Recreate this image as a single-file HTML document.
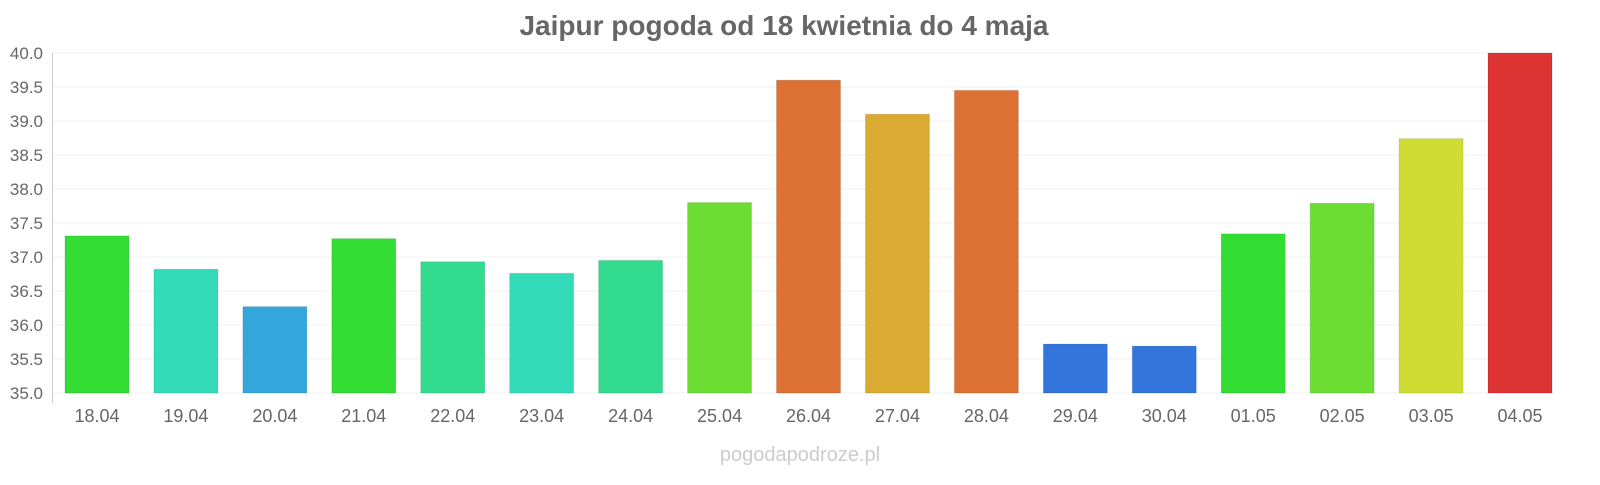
<!DOCTYPE html>
<html><head><meta charset="utf-8"><style>
body{margin:0;background:#fff;font-family:"Liberation Sans",sans-serif}
svg text{font-family:"Liberation Sans",sans-serif}
</style></head><body>
<svg id="chart" width="1600" height="480">
<text x="784" y="35" text-anchor="middle" font-size="28" font-weight="bold" fill="#666">Jaipur pogoda od 18 kwietnia do 4 maja</text>
<text x="800" y="461" text-anchor="middle" font-size="20" fill="#ccc">pogodapodroze.pl</text>
<g id="grid"></g><g id="bars"></g><g id="labels"></g>
</svg>
<script>
const categories=["18.04","19.04","20.04","21.04","22.04","23.04","24.04","25.04","26.04","27.04","28.04","29.04","30.04","01.05","02.05","03.05","04.05"];
const temps=[37.31,36.82,36.27,37.27,36.93,36.76,36.95,37.8,39.6,39.1,39.45,35.72,35.69,37.34,37.79,38.74,40.0];
const colors=["#33dd33","#33dbb8","#33a6db","#33dd33","#33db8f","#33dbb8","#33db8f","#6bdd33","#dd7033","#dbaa33","#dd7033","#3375db","#3375db","#33dd33","#6bdd33","#cfdd33","#dd3333"];
const ticks=["35.0","35.5","36.0","36.5","37.0","37.5","38.0","38.5","39.0","39.5","40.0"];
const yMin=35,yMax=40,plotTop=53,plotBottom=393,plotLeft=52.5,plotRight=1564.5;
const y=v=>plotBottom-(v-yMin)/(yMax-yMin)*(plotBottom-plotTop);
const step=(plotRight-plotLeft)/categories.length;
const x=i=>plotLeft+step*(i+0.5);
const NS="http://www.w3.org/2000/svg";
const g=document.getElementById('grid'),b=document.getElementById('bars'),l=document.getElementById('labels');
function mk(t,a,p){const e=document.createElementNS(NS,t);for(const k in a)e.setAttribute(k,a[k]);p.appendChild(e);return e;}
ticks.forEach(t=>{const v=parseFloat(t);
const ln=mk('line',{x1:plotLeft,x2:plotRight-10,y1:y(v),y2:y(v),stroke:'#f0f0f0'},g);


const tx=mk('text',{x:43,y:y(v)+6,'text-anchor':'end','font-size':17,fill:'#666'},l);tx.textContent=t;

});
const ax=mk('line',{x1:plotLeft,x2:plotLeft,y1:plotTop,y2:plotBottom+10,stroke:'#ccc'},g);


categories.forEach((c,i)=>{
const r=mk('rect',{x:x(i)-32,y:y(temps[i]),width:64,height:plotBottom-y(temps[i]),fill:colors[i],stroke:'rgba(0,0,0,0.1)'},b);


const t=mk('text',{x:x(i),y:422,'text-anchor':'middle','font-size':18,fill:'#666'},l);t.textContent=c;

});
</script>
</body></html>
